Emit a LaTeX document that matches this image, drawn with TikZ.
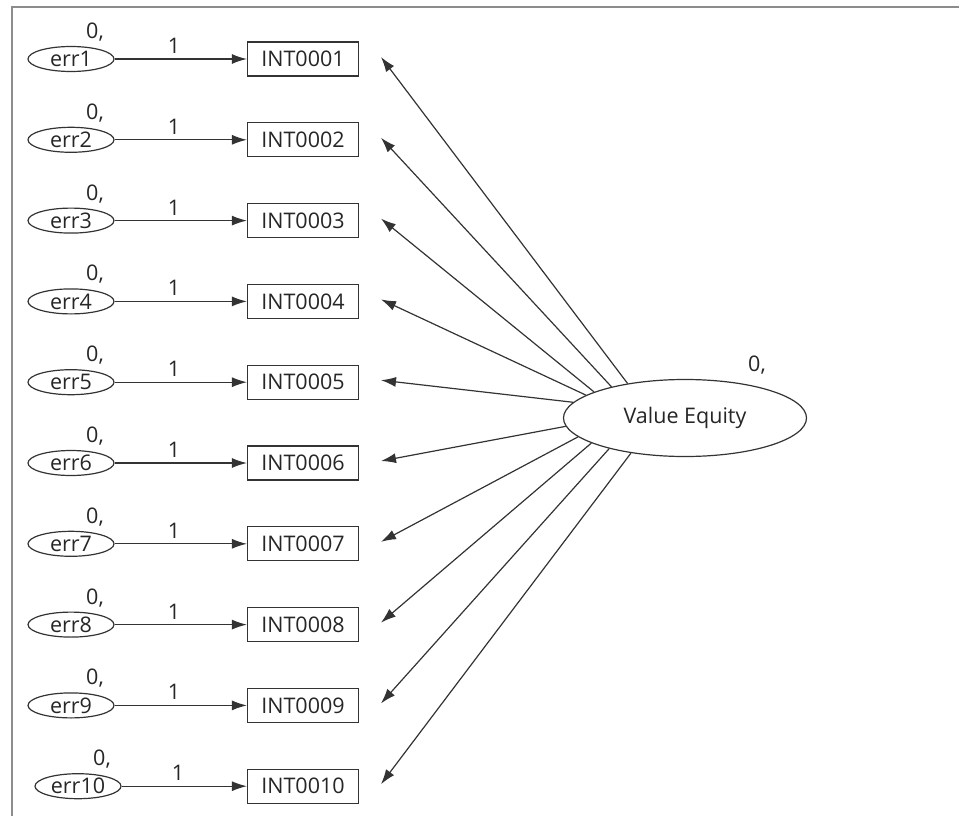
\documentclass[tikz,border=0pt]{standalone}
\usepackage{fontspec}
\setmainfont{Open Sans}
\usetikzlibrary{arrows.meta,shapes.geometric}
\begin{document}
\begin{tikzpicture}[x=1pt,y=-1pt,
  every node/.style={font=\fontsize{21.5}{24}\selectfont, text=black!85},
  errnode/.style={draw=black!80, line width=1.2pt, ellipse, minimum width=86pt, minimum height=25pt, inner sep=0pt},
  itembox/.style={draw=black!80, line width=1.2pt, rectangle, minimum width=111pt, minimum height=34pt, inner sep=0pt},
  latent/.style={draw=black!80, line width=1.2pt, ellipse, minimum width=243pt, minimum height=77pt, inner sep=0pt},
  link/.style={draw=black!80, line width=1.2pt, -{Latex[length=15pt,width=10pt]}},
  lbl/.style={inner sep=0pt}
]
\useasboundingbox (0,0) rectangle (959,816);
\draw[black!45, line width=1.5pt] (959,7) -- (12,7) -- (12,816);

\node[latent] (ve) at (685,418) {Value Equity};
\node[lbl] (vel) at (757,365) {0,};

\foreach \i/\t/\ang in {1/INT0001/149,2/INT0002/157,3/INT0003/164,4/INT0004/167.5,5/INT0005/172,6/INT0006/184,7/INT0007/190,8/INT0008/195,9/INT0009/202.5,10/INT0010/213}{
  \pgfmathsetmacro\ry{59+(\i-1)*80.8}
  \pgfmathsetmacro\ex{\i==10 ? 78 : 71}
  \node[errnode] (e\i) at (\ex,\ry) {err\i};
  \node[lbl] (z\i) at ([shift={(24,-27)}]e\i.center) {0,};
  \node[itembox] (b\i) at (303,\ry) {\t};
  \coordinate (t\i) at (381,\ry-2);
  \draw[link] (e\i) -- node[lbl, pos=0.45, above=5pt] (w\i) {1} (b\i);
  \draw[link] (ve.\ang) -- (t\i);
}
\end{tikzpicture}
\end{document}
